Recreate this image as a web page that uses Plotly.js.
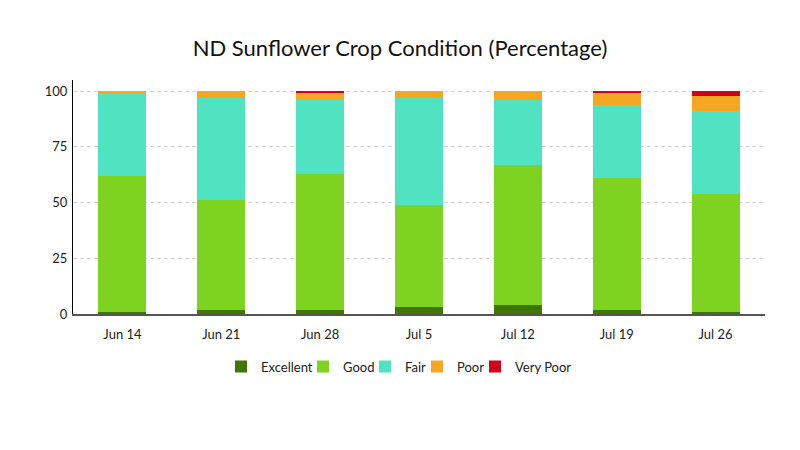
<!DOCTYPE html>
<html>
<head>
<meta charset="utf-8">
<script src="https://cdn.plot.ly/plotly-3.0.1.min.js"></script>
<style>
  html, body { margin: 0; padding: 0; background: #fff; }
  #chart { width: 800px; height: 450px; }
</style>
</head>
<body>
<div id="chart"></div>
<script>
var weeks = ['Jun 14', 'Jun 21', 'Jun 28', 'Jul 5', 'Jul 12', 'Jul 19', 'Jul 26'];
var excellent = [1, 2, 2, 3, 4, 2, 1];
var good = [61, 49, 61, 46, 63, 59, 53];
var fair = [37, 46, 33, 48, 29, 33, 37];
var poor = [1, 3, 3, 3, 4, 5, 7];
var veryPoor = [0, 0, 1, 0, 0, 1, 2];

var seriesNames = ['Excellent', 'Good', 'Fair', 'Poor', 'Very Poor'];
var seriesColors = ['#417505', '#7ED321', '#50E3C2', '#F5A623', '#D0021B'];
var seriesValues = [excellent, good, fair, poor, veryPoor];

// one small legend per series so the entries sit close together
var legendIds = ['legend', 'legend2', 'legend3', 'legend4', 'legend5'];
var legendLeft = [221, 303, 365, 417, 475];

var data = seriesValues.map(function (vals, i) {
    return {
        x: weeks,
        y: vals,
        name: seriesNames[i],
        type: 'bar',
        legend: legendIds[i],
        marker: { color: seriesColors[i], line: { width: 0 } },
        hoverinfo: 'x+y+name'
    };
});

var layout = {
    width: 800,
    height: 450,
    barmode: 'stack',
    bargap: 0.515,
    paper_bgcolor: '#fff',
    plot_bgcolor: '#fff',
    font: { family: 'Lato, sans-serif', size: 13, color: '#222' },
    title: {
        text: 'ND Sunflower Crop Condition (Percentage)',
        font: { family: 'Lato, sans-serif', size: 22, color: '#111' },
        x: 0.5,
        xanchor: 'center',
        y: 0.893,
        yanchor: 'middle'
    },
    margin: { l: 73, r: 35, t: 80, b: 136 },
    xaxis: {
        type: 'category',
        showline: true,
        linecolor: '#555',
        linewidth: 1.5,
        ticks: 'outside',
        ticklen: 8,
        tickcolor: 'rgba(0,0,0,0)',
        showgrid: false,
        tickfont: { size: 13, color: '#222' }
    },
    yaxis: {
        range: [0, 105],
        tickvals: [0, 25, 50, 75, 100],
        showline: true,
        linecolor: '#000',
        linewidth: 1,
        ticks: 'outside',
        ticklen: 2,
        tickcolor: 'rgba(0,0,0,0)',
        gridcolor: '#d6d6d6',
        griddash: '4px,3px',
        gridwidth: 1.2,
        zeroline: false,
        tickfont: { size: 13, color: '#222' }
    },
    showlegend: true
};

legendIds.forEach(function (id, i) {
    layout[id] = {
        orientation: 'h',
        x: (legendLeft[i] - 73) / 692,
        xanchor: 'left',
        y: -0.225,
        yanchor: 'middle',
        bgcolor: 'rgba(0,0,0,0)',
        font: { size: 13, color: '#222' }
    };
});

Plotly.newPlot('chart', data, layout, { displayModeBar: false, displaylogo: false });
</script>
</body>
</html>
